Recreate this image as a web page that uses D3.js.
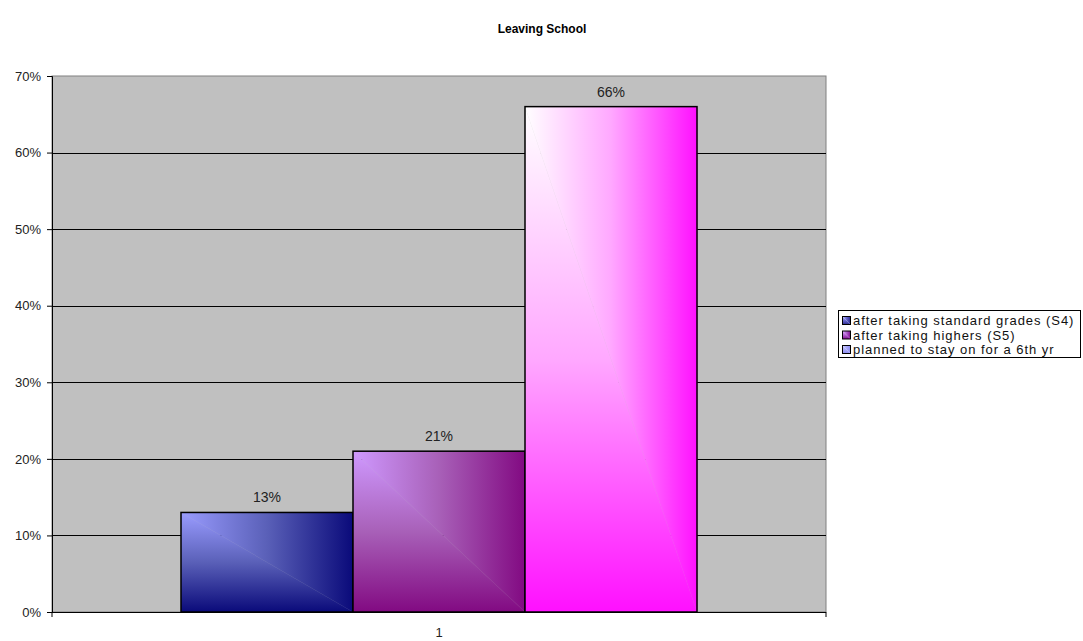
<!DOCTYPE html>
<html>
<head>
<meta charset="utf-8">
<script src="https://cdn.jsdelivr.net/npm/d3@7/dist/d3.min.js"></script>
<style>
  html, body { margin: 0; padding: 0; background: #fff; }
  svg { display: block; font-family: "Liberation Sans", Arial, sans-serif; }
</style>
</head>
<body>
<svg id="chart" width="1083" height="641"></svg>
<script>
// Chart data
const title = "Leaving School";
const categories = ["1"];
const seriesNames = [
  "after taking standard grades (S4)",
  "after taking highers (S5)",
  "planned to stay on for a 6th yr"
];
const seriesValues = [0.13, 0.21, 0.66];
const yTicks = [0, 0.1, 0.2, 0.3, 0.4, 0.5, 0.6, 0.7];

// Corner-gradient colours per series: [light corner, mid, dark edge]
const seriesColors = [
  ["#9a9cff", "#5a60b8", "#0a0a7a"],
  ["#cf99ff", "#a860b8", "#820a82"],
  ["#ffffff", "#ffa8ff", "#ff10ff"]
];
const legendColors = [
  ["#b0b0ff", "#6a6ad0", "#2a2a90"],
  ["#d8a0ff", "#b060d0", "#800a90"],
  ["#c8c8ff", "#aaaaf8", "#8c8cf0"]
];

const svg = d3.select("#chart");
const margin = { left: 52, right: 257, top: 76, bottom: 29 };
const W = 1083, H = 641;
const plotW = W - margin.left - margin.right;
const plotH = H - margin.top - margin.bottom;

const defs = svg.append("defs");

function addGradients(id, c) {
  // horizontal ramp (upper-right triangle) and vertical ramp (lower-left triangle)
  [["h", 1, 0], ["v", 0, 1]].forEach(([k, x2, y2]) => {
    const gr = defs.append("linearGradient").attr("id", id + "-" + k)
      .attr("x1", 0).attr("y1", 0).attr("x2", x2).attr("y2", y2);
    gr.append("stop").attr("offset", 0).attr("stop-color", c[0]);
    gr.append("stop").attr("offset", 0.5).attr("stop-color", c[1]);
    gr.append("stop").attr("offset", 1).attr("stop-color", c[2]);
  });
}
seriesColors.forEach((c, i) => addGradients("bar" + i, c));
legendColors.forEach((c, i) => addGradients("leg" + i, c));

const g = svg.append("g").attr("transform", `translate(${margin.left},${margin.top})`);

const y = d3.scaleLinear().domain([0, 0.7]).range([plotH, 0]);
const x0 = d3.scaleBand().domain(categories).range([0, plotW]).paddingInner(0).paddingOuter(0);
// Gap width 150%: group of three bars takes 3 / 4.5 of the category width
const groupW = x0.bandwidth() * 3 / 4.5;
const x1 = d3.scaleBand().domain(d3.range(seriesValues.length))
  .range([(x0.bandwidth() - groupW) / 2, (x0.bandwidth() + groupW) / 2]);

// Plot background
g.append("rect").attr("x", 0).attr("y", 0).attr("width", plotW).attr("height", plotH)
  .attr("fill", "#c0c0c0").attr("stroke", "#808080").attr("stroke-width", 1);

// Gridlines
g.append("g").selectAll("line").data(yTicks.filter(t => t > 0 && t < 0.7)).join("line")
  .attr("x1", 0).attr("x2", plotW)
  .attr("y1", d => Math.round(y(d)) + 0.5).attr("y2", d => Math.round(y(d)) + 0.5)
  .attr("stroke", "#000").attr("stroke-width", 1);

// Bars, each built of two triangles so the ramp meets along the diagonal
const bars = g.append("g").attr("transform", `translate(${x0(categories[0])},0)`);
seriesValues.forEach((v, i) => {
  const bx = x1(i), bw = x1.bandwidth(), by = y(v), bh = plotH - y(v);
  const bg = bars.append("g");
  bg.append("path")
    .attr("d", `M${bx},${by}L${bx + bw},${by}L${bx + bw},${by + bh}Z`)
    .attr("fill", `url(#bar${i}-h)`).attr("stroke", `url(#bar${i}-h)`).attr("stroke-width", 0.6);
  bg.append("path")
    .attr("d", `M${bx},${by}L${bx},${by + bh}L${bx + bw},${by + bh}Z`)
    .attr("fill", `url(#bar${i}-v)`);
  bg.append("rect").attr("x", bx).attr("y", by).attr("width", bw).attr("height", bh)
    .attr("fill", "none").attr("stroke", "#000").attr("stroke-width", 1.5);
  bars.append("text")
    .attr("x", bx + bw / 2).attr("y", by - 10)
    .attr("text-anchor", "middle").attr("font-size", 14).attr("fill", "#222")
    .text(d3.format(".0%")(v));
});

// Y axis
const yAxis = d3.axisLeft(y).tickValues(yTicks).tickFormat(d3.format(".0%")).tickSize(5).tickPadding(6);
const ya = g.append("g").call(yAxis);
ya.select(".domain").attr("stroke", "#000");
ya.selectAll(".tick line").attr("stroke", "#000");
ya.selectAll("text").attr("font-size", 13).attr("fill", "#222").attr("font-family", "Liberation Sans, Arial, sans-serif");

// X axis
const xa = g.append("g").attr("transform", `translate(0,${plotH})`);
xa.append("line").attr("x1", 0).attr("x2", plotW).attr("y1", 0.5).attr("y2", 0.5).attr("stroke", "#000");
[0, plotW].forEach(px => xa.append("line").attr("x1", px).attr("x2", px).attr("y1", 0).attr("y2", 5).attr("stroke", "#000"));
xa.selectAll("text.cat").data(categories).join("text").attr("class", "cat")
  .attr("x", d => x0(d) + x0.bandwidth() / 2).attr("y", 25)
  .attr("text-anchor", "middle").attr("font-size", 13).attr("fill", "#222").text(d => d);

// Title
svg.append("text").attr("x", 542).attr("y", 33).attr("text-anchor", "middle")
  .attr("font-size", 12).attr("font-weight", "bold").attr("fill", "#000").text(title);

// Legend
const lg = svg.append("g").attr("transform", "translate(838,310)");
lg.append("rect").attr("x", 0.5).attr("y", 0.5).attr("width", 242).attr("height", 47)
  .attr("fill", "#fff").attr("stroke", "#000");
seriesNames.forEach((name, i) => {
  const row = lg.append("g").attr("transform", `translate(4,${6 + i * 14.5})`);
  row.append("path").attr("d", "M0.5,0.5L8.5,0.5L8.5,8.5Z").attr("fill", `url(#leg${i}-h)`);
  row.append("path").attr("d", "M0.5,0.5L0.5,8.5L8.5,8.5Z").attr("fill", `url(#leg${i}-v)`);
  row.append("rect").attr("x", 0.5).attr("y", 0.5).attr("width", 8).attr("height", 8)
    .attr("fill", "none").attr("stroke", "#000");
  row.append("text").attr("x", 11).attr("y", 9).attr("font-size", 13)
    .attr("letter-spacing", 0.95).attr("fill", "#111").text(name);
});
</script>
</body>
</html>
